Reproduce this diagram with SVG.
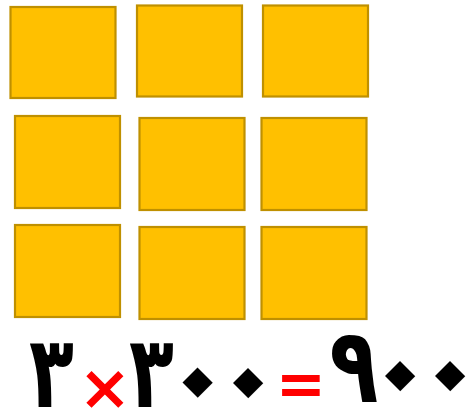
<svg xmlns="http://www.w3.org/2000/svg" width="467" height="413" viewBox="0 0 467 413">
<style>
.sq{fill:#FFC000;stroke:#BF9000;stroke-width:2.2}
.d{font-family:"DejaVu Sans",sans-serif;font-weight:bold;fill:#000;text-anchor:middle}
.z{font-family:"DejaVu Sans",sans-serif;font-weight:bold;fill:#000;text-anchor:middle;font-size:124px}
.r{font-family:"DejaVu Sans",sans-serif;font-weight:bold;fill:#FF0000;text-anchor:middle}
</style>
<rect width="467" height="413" fill="#fff"/>
<g id="squares">
<rect id="s1" class="sq" x="10.5" y="7" width="105" height="91"/>
<rect id="s2" class="sq" x="137" y="5.5" width="105" height="91"/>
<rect id="s3" class="sq" x="263" y="5.5" width="105" height="91"/>
<rect id="s4" class="sq" x="15" y="116" width="105" height="92"/>
<rect id="s5" class="sq" x="139.5" y="118" width="105" height="92"/>
<rect id="s6" class="sq" x="261.5" y="118" width="105" height="92"/>
<rect id="s7" class="sq" x="15" y="225" width="105" height="92"/>
<rect id="s8" class="sq" x="139.5" y="227" width="105" height="92"/>
<rect id="s9" class="sq" x="261.5" y="227" width="105" height="92"/>
</g>
<g id="equation">
<text class="d" transform="translate(51.5,407) scale(0.92,1.25)" font-size="80">٣</text>
<text class="r" x="105" y="409" font-size="63">×</text>
<text class="d" transform="translate(151.5,407) scale(0.92,1.25)" font-size="80">٣</text>
<text class="z" transform="translate(200,380.5) rotate(45)" x="0" y="38">٠</text>
<text class="z" transform="translate(250.5,381) rotate(45)" x="0" y="38">٠</text>
<text class="r" x="301" y="405" font-size="60">=</text>
<text class="d" transform="translate(354,402) scale(1,1.3)" font-size="80">٩</text>
<text class="z" transform="translate(402.5,374) rotate(45)" x="0" y="38">٠</text>
<text class="z" transform="translate(452.5,374) rotate(45)" x="0" y="38">٠</text>
</g>
</svg>
